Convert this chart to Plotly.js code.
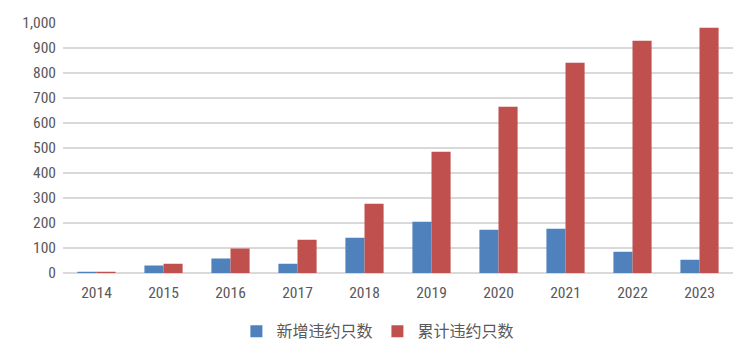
<!DOCTYPE html>
<html><head><meta charset="utf-8">
<script src="https://cdn.plot.ly/plotly-3.0.1.min.js"></script>
<style>body{margin:0;background:#fff}#c{width:756px;height:362px}</style>
</head><body><div id="c"></div>
<script>
const years = ['2014','2015','2016','2017','2018','2019','2020','2021','2022','2023'];
const newDefaults = [5, 30, 58, 37, 141, 205, 173, 177, 85, 53];
const cumDefaults = [5, 37, 98, 133, 277, 485, 665, 841, 929, 981];
const seriesNames = ['新增违约只数', '累计违约只数'];
const fontFam = '"Liberation Sans Narrow", "Roboto Condensed", Roboto, "Noto Sans CJK SC", sans-serif';
const data = [
  {type:'bar', x:years, y:newDefaults, name:seriesNames[0], marker:{color:'#4f81bd'}},
  {type:'bar', x:years, y:cumDefaults, name:seriesNames[1], marker:{color:'#c0504d'}}
];
const layout = {
  width:756, height:362,
  margin:{l:63, r:23, t:23, b:89, autoexpand:false},
  barmode:'group', bargap:0.43, bargroupgap:0,
  paper_bgcolor:'#fff', plot_bgcolor:'#fff',
  font:{family:fontFam, size:15.5, color:'#595959'},
  xaxis:{type:'category', showgrid:false, zeroline:false, showline:false, ticks:'', ticklabelstandoff:8, tickfont:{size:15.5, color:'#595959'}},
  yaxis:{range:[0,1000], dtick:100, tickformat:',d', showgrid:true, gridcolor:'#d9d9d9', gridwidth:1.5, zeroline:true, zerolinecolor:'#d9d9d9', zerolinewidth:1.5, showline:false, ticks:'', ticklen:0, ticklabelstandoff:6, tickfont:{size:15.5, color:'#595959'}},
  showlegend:true,
  legend:{orientation:'h', x:0.47, xanchor:'center', y:-0.165, yanchor:'top', font:{family:'"Noto Sans CJK SC", sans-serif', size:16, color:'#595959'}, itemwidth:30, tracegroupgap:0}
};
Plotly.newPlot('c', data, layout, {displayModeBar:false, staticPlot:true});
</script></body></html>
